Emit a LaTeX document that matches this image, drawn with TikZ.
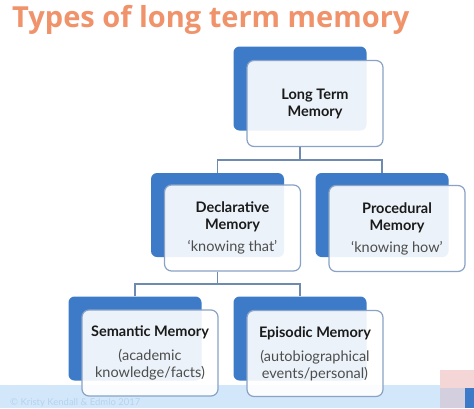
\documentclass[tikz,border=0pt]{standalone}
\usepackage{fontspec}
\setmainfont{Lato}
\newfontfamily\titlefont{Open Sans}
\definecolor{titleor}{HTML}{F0936B}
\definecolor{myblue}{HTML}{3D7BC8}
\definecolor{frontbd}{HTML}{8AA2C6}
\definecolor{conncol}{HTML}{6F8AB0}
\definecolor{bandblue}{HTML}{D2E8FA}
\definecolor{copyc}{HTML}{B5D2EE}
\definecolor{pinkc}{HTML}{F5D6D6}
\definecolor{mixc}{HTML}{D3CFDF}
\definecolor{headc}{HTML}{1A1A1A}
\definecolor{subc}{HTML}{4D4D4D}
\begin{document}
\begin{tikzpicture}[x=1pt,y=-1pt,
  back/.style={fill=myblue, rounded corners=6pt, minimum width=133pt, minimum height=84pt, inner sep=0pt},
  front/.style={draw=frontbd, line width=1.2pt, fill=white, fill opacity=0.9, text opacity=1, rounded corners=7pt, minimum width=136pt, minimum height=86pt, inner sep=0pt, align=center, font=\fontsize{14.5}{17}\selectfont},
  conn/.style={draw=conncol, line width=1.2pt},
  ]
\useasboundingbox (0,0) rectangle (474,408);
\clip (0,0) rectangle (474,408);
\fill[white] (0,0) rectangle (474,408);
% bottom band
\fill[bandblue] (0,385) rectangle (440,408);
\fill[pinkc] (440,370) rectangle (474,408);
\fill[mixc] (440,388) rectangle (465,408);
\fill[myblue] (465,388) rectangle (474,408);
\node[anchor=base west, text=copyc, font=\fontsize{9.5}{11}\selectfont, inner sep=0pt] (copy) at (10,405) {© Kristy Kendall \& Edmlo 2017};
% title
\node[anchor=base west, text=titleor, font=\titlefont\fontsize{29}{32}\selectfont\bfseries, inner sep=0pt] (title) at (12,27) {Types of long term memory};
% back boxes
\node[back] (ltmB) at (300,88.5) {};
\node[back] (declB) at (217.5,215) {};
\node[back] (procB) at (382,215) {};
\node[back] (semB) at (135,338.5) {};
\node[back] (epiB) at (300,338.5) {};
% front boxes
\node[front] (ltm) at (315,103.5) {\color{headc}\bfseries Long Term\\\color{headc}\bfseries Memory};
\node[front] (decl) at (232.5,228) {\color{headc}\bfseries Declarative\\\color{headc}\bfseries Memory\\[5pt]\color{subc}‘knowing that’};
\node[front] (proc) at (397,228.5) {\color{headc}\bfseries Procedural\\\color{headc}\bfseries Memory\\[5pt]\color{subc}‘knowing how’};
\node[front] (sem) at (150,353) {\color{headc}\bfseries Semantic Memory\\[7pt]\color{subc}(academic\\\color{subc}knowledge/facts)};
\node[front] (epi) at (315,353.5) {\color{headc}\bfseries Episodic Memory\\[7pt]\color{subc}(autobiographical\\\color{subc}events/personal)};
% connectors
\coordinate (j1) at (300,160);
\coordinate (j2) at (217.5,284);
\draw[conn] (ltm.south -| ltmB.south) -- (j1);
\draw[conn] (declB.north) |- (j1) -| (procB.north);
\draw[conn] (decl.south -| declB.south) -- (j2);
\draw[conn] (semB.north) |- (j2) -| (epiB.north);
\end{tikzpicture}
\end{document}
